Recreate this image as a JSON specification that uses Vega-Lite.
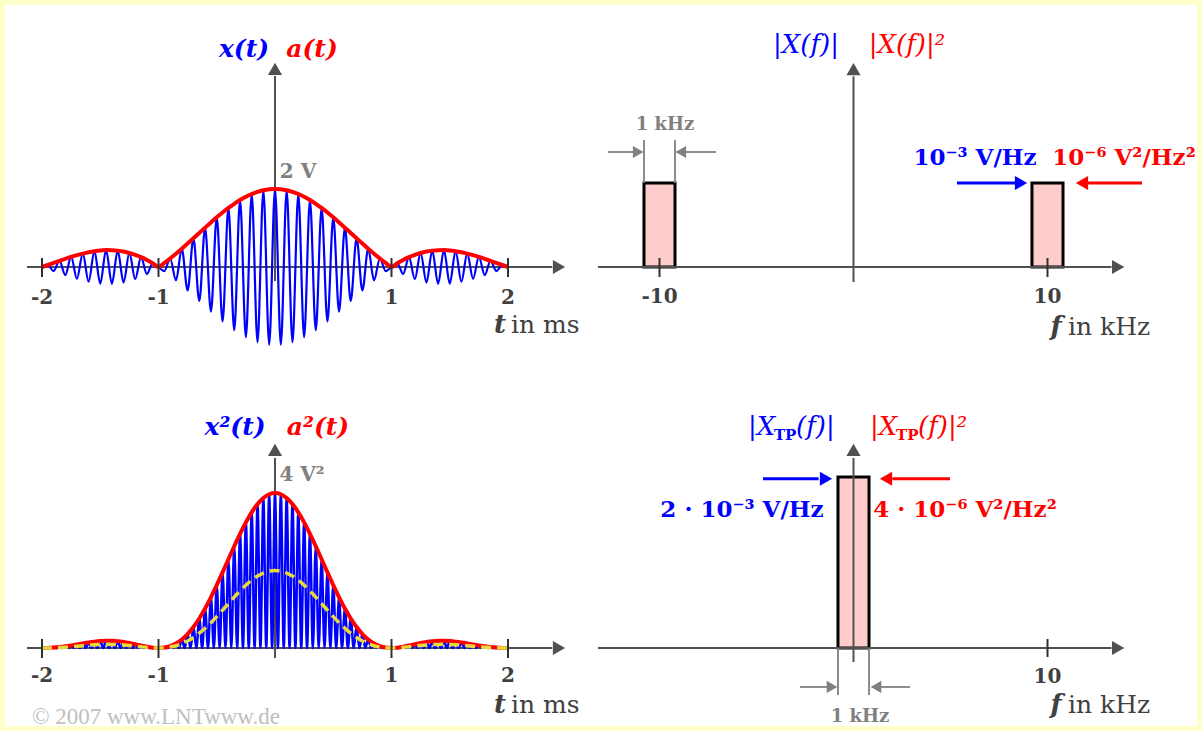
{
"$schema":"https://vega.github.io/schema/vega-lite/v6.json",
"background":"#FFFFCC",
"padding":5,
"bounds":"flush",
"spacing":0,
"columns":2,
"config":{"view":{"fill":"#FFFFFF","stroke":null},"concat":{"spacing":0}},
"resolve":{"scale":{"x":"independent","y":"independent"}},
"datasets":{
"sig":[
{"t":-2,"x":0,"a":0,"q":0,"h":0},
{"t":-1.95,"x":0.0511,"a":0.0511,"q":0.0026,"h":0.0013},
{"t":-1.9,"x":-0.1035,"a":0.1035,"q":0.0107,"h":0.0054},
{"t":-1.85,"x":0.1562,"a":0.1562,"q":0.0244,"h":0.0122},
{"t":-1.8,"x":-0.2079,"a":0.2079,"q":0.0432,"h":0.0216},
{"t":-1.75,"x":0.2572,"a":0.2572,"q":0.0662,"h":0.0331},
{"t":-1.7,"x":-0.303,"a":0.303,"q":0.0918,"h":0.0459},
{"t":-1.65,"x":0.3438,"a":0.3438,"q":0.1182,"h":0.0591},
{"t":-1.6,"x":-0.3784,"a":0.3784,"q":0.1432,"h":0.0716},
{"t":-1.55,"x":0.4057,"a":0.4057,"q":0.1646,"h":0.0823},
{"t":-1.5,"x":-0.4244,"a":0.4244,"q":0.1801,"h":0.0901},
{"t":-1.45,"x":0.4336,"a":0.4336,"q":0.188,"h":0.094},
{"t":-1.4,"x":-0.4325,"a":0.4325,"q":0.187,"h":0.0935},
{"t":-1.35,"x":0.4202,"a":0.4202,"q":0.1766,"h":0.0883},
{"t":-1.3,"x":-0.3962,"a":0.3962,"q":0.157,"h":0.0785},
{"t":-1.25,"x":0.3601,"a":0.3601,"q":0.1297,"h":0.0648},
{"t":-1.2,"x":-0.3118,"a":0.3118,"q":0.0972,"h":0.0486},
{"t":-1.15,"x":0.2513,"a":0.2513,"q":0.0632,"h":0.0316},
{"t":-1.1,"x":-0.1788,"a":0.1788,"q":0.032,"h":0.016},
{"t":-1.05,"x":0.0948,"a":0.0948,"q":0.009,"h":0.0045},
{"t":-1,"x":0,"a":0,"q":0,"h":0},
{"t":-0.95,"x":-0.1048,"a":0.1048,"q":0.011,"h":0.0055},
{"t":-0.9,"x":0.2186,"a":0.2186,"q":0.0478,"h":0.0239},
{"t":-0.85,"x":-0.34,"a":0.34,"q":0.1156,"h":0.0578},
{"t":-0.8,"x":0.4677,"a":0.4677,"q":0.2188,"h":0.1094},
{"t":-0.75,"x":-0.6002,"a":0.6002,"q":0.3603,"h":0.1801},
{"t":-0.7,"x":0.7358,"a":0.7358,"q":0.5414,"h":0.2707},
{"t":-0.65,"x":-0.8727,"a":0.8727,"q":0.7615,"h":0.3808},
{"t":-0.6,"x":1.0091,"a":1.0091,"q":1.0183,"h":0.5091},
{"t":-0.55,"x":-1.1432,"a":1.1432,"q":1.3069,"h":0.6535},
{"t":-0.5,"x":1.2732,"a":1.2732,"q":1.6211,"h":0.8106},
{"t":-0.45,"x":-1.3973,"a":1.3973,"q":1.9524,"h":0.9762},
{"t":-0.4,"x":1.5137,"a":1.5137,"q":2.2912,"h":1.1456},
{"t":-0.35,"x":-1.6207,"a":1.6207,"q":2.6266,"h":1.3133},
{"t":-0.3,"x":1.7168,"a":1.7168,"q":2.9473,"h":1.4737},
{"t":-0.25,"x":-1.8006,"a":1.8006,"q":3.2423,"h":1.6212},
{"t":-0.2,"x":1.871,"a":1.871,"q":3.5006,"h":1.7503},
{"t":-0.15,"x":-1.9268,"a":1.9268,"q":3.7126,"h":1.8563},
{"t":-0.1,"x":1.9673,"a":1.9673,"q":3.8701,"h":1.9351},
{"t":-0.05,"x":-1.9918,"a":1.9918,"q":3.9672,"h":1.9836},
{"t":0,"x":2,"a":2,"q":4,"h":2},
{"t":0.05,"x":-1.9918,"a":1.9918,"q":3.9672,"h":1.9836},
{"t":0.1,"x":1.9673,"a":1.9673,"q":3.8701,"h":1.9351},
{"t":0.15,"x":-1.9268,"a":1.9268,"q":3.7126,"h":1.8563},
{"t":0.2,"x":1.871,"a":1.871,"q":3.5006,"h":1.7503},
{"t":0.25,"x":-1.8006,"a":1.8006,"q":3.2423,"h":1.6212},
{"t":0.3,"x":1.7168,"a":1.7168,"q":2.9473,"h":1.4737},
{"t":0.35,"x":-1.6207,"a":1.6207,"q":2.6266,"h":1.3133},
{"t":0.4,"x":1.5137,"a":1.5137,"q":2.2912,"h":1.1456},
{"t":0.45,"x":-1.3973,"a":1.3973,"q":1.9524,"h":0.9762},
{"t":0.5,"x":1.2732,"a":1.2732,"q":1.6211,"h":0.8106},
{"t":0.55,"x":-1.1432,"a":1.1432,"q":1.3069,"h":0.6535},
{"t":0.6,"x":1.0091,"a":1.0091,"q":1.0183,"h":0.5091},
{"t":0.65,"x":-0.8727,"a":0.8727,"q":0.7615,"h":0.3808},
{"t":0.7,"x":0.7358,"a":0.7358,"q":0.5414,"h":0.2707},
{"t":0.75,"x":-0.6002,"a":0.6002,"q":0.3603,"h":0.1801},
{"t":0.8,"x":0.4677,"a":0.4677,"q":0.2188,"h":0.1094},
{"t":0.85,"x":-0.34,"a":0.34,"q":0.1156,"h":0.0578},
{"t":0.9,"x":0.2186,"a":0.2186,"q":0.0478,"h":0.0239},
{"t":0.95,"x":-0.1048,"a":0.1048,"q":0.011,"h":0.0055},
{"t":1,"x":0,"a":0,"q":0,"h":0},
{"t":1.05,"x":0.0948,"a":0.0948,"q":0.009,"h":0.0045},
{"t":1.1,"x":-0.1788,"a":0.1788,"q":0.032,"h":0.016},
{"t":1.15,"x":0.2513,"a":0.2513,"q":0.0632,"h":0.0316},
{"t":1.2,"x":-0.3118,"a":0.3118,"q":0.0972,"h":0.0486},
{"t":1.25,"x":0.3601,"a":0.3601,"q":0.1297,"h":0.0648},
{"t":1.3,"x":-0.3962,"a":0.3962,"q":0.157,"h":0.0785},
{"t":1.35,"x":0.4202,"a":0.4202,"q":0.1766,"h":0.0883},
{"t":1.4,"x":-0.4325,"a":0.4325,"q":0.187,"h":0.0935},
{"t":1.45,"x":0.4336,"a":0.4336,"q":0.188,"h":0.094},
{"t":1.5,"x":-0.4244,"a":0.4244,"q":0.1801,"h":0.0901},
{"t":1.55,"x":0.4057,"a":0.4057,"q":0.1646,"h":0.0823},
{"t":1.6,"x":-0.3784,"a":0.3784,"q":0.1432,"h":0.0716},
{"t":1.65,"x":0.3438,"a":0.3438,"q":0.1182,"h":0.0591},
{"t":1.7,"x":-0.303,"a":0.303,"q":0.0918,"h":0.0459},
{"t":1.75,"x":0.2572,"a":0.2572,"q":0.0662,"h":0.0331},
{"t":1.8,"x":-0.2079,"a":0.2079,"q":0.0432,"h":0.0216},
{"t":1.85,"x":0.1562,"a":0.1562,"q":0.0244,"h":0.0122},
{"t":1.9,"x":-0.1035,"a":0.1035,"q":0.0107,"h":0.0054},
{"t":1.95,"x":0.0511,"a":0.0511,"q":0.0026,"h":0.0013},
{"t":2,"x":0,"a":0,"q":0,"h":0}
],
"sq":[
{"t":-2,"y":0},{"t":-1.975,"y":0},{"t":-1.95,"y":0.0026},{"t":-1.925,"y":0},{"t":-1.9,"y":0.0107},{"t":-1.875,"y":0},{"t":-1.85,"y":0.0244},{"t":-1.825,"y":0},{"t":-1.8,"y":0.0432},{"t":-1.775,"y":0},
{"t":-1.75,"y":0.0662},{"t":-1.725,"y":0},{"t":-1.7,"y":0.0918},{"t":-1.675,"y":0},{"t":-1.65,"y":0.1182},{"t":-1.625,"y":0},{"t":-1.6,"y":0.1432},{"t":-1.575,"y":0},{"t":-1.55,"y":0.1646},{"t":-1.525,"y":0},
{"t":-1.5,"y":0.1801},{"t":-1.475,"y":0},{"t":-1.45,"y":0.188},{"t":-1.425,"y":0},{"t":-1.4,"y":0.187},{"t":-1.375,"y":0},{"t":-1.35,"y":0.1766},{"t":-1.325,"y":0},{"t":-1.3,"y":0.157},{"t":-1.275,"y":0},
{"t":-1.25,"y":0.1297},{"t":-1.225,"y":0},{"t":-1.2,"y":0.0972},{"t":-1.175,"y":0},{"t":-1.15,"y":0.0632},{"t":-1.125,"y":0},{"t":-1.1,"y":0.032},{"t":-1.075,"y":0},{"t":-1.05,"y":0.009},{"t":-1.025,"y":0},
{"t":-1,"y":0},{"t":-0.975,"y":0},{"t":-0.95,"y":0.011},{"t":-0.925,"y":0},{"t":-0.9,"y":0.0478},{"t":-0.875,"y":0},{"t":-0.85,"y":0.1156},{"t":-0.825,"y":0},{"t":-0.8,"y":0.2188},{"t":-0.775,"y":0},
{"t":-0.75,"y":0.3603},{"t":-0.725,"y":0},{"t":-0.7,"y":0.5414},{"t":-0.675,"y":0},{"t":-0.65,"y":0.7615},{"t":-0.625,"y":0},{"t":-0.6,"y":1.0183},{"t":-0.575,"y":0},{"t":-0.55,"y":1.3069},{"t":-0.525,"y":0},
{"t":-0.5,"y":1.6211},{"t":-0.475,"y":0},{"t":-0.45,"y":1.9524},{"t":-0.425,"y":0},{"t":-0.4,"y":2.2912},{"t":-0.375,"y":0},{"t":-0.35,"y":2.6266},{"t":-0.325,"y":0},{"t":-0.3,"y":2.9473},{"t":-0.275,"y":0},
{"t":-0.25,"y":3.2423},{"t":-0.225,"y":0},{"t":-0.2,"y":3.5006},{"t":-0.175,"y":0},{"t":-0.15,"y":3.7126},{"t":-0.125,"y":0},{"t":-0.1,"y":3.8701},{"t":-0.075,"y":0},{"t":-0.05,"y":3.9672},{"t":-0.025,"y":0},
{"t":0,"y":4},
{"t":0.025,"y":0},{"t":0.05,"y":3.9672},{"t":0.075,"y":0},{"t":0.1,"y":3.8701},{"t":0.125,"y":0},{"t":0.15,"y":3.7126},{"t":0.175,"y":0},{"t":0.2,"y":3.5006},{"t":0.225,"y":0},{"t":0.25,"y":3.2423},
{"t":0.275,"y":0},{"t":0.3,"y":2.9473},{"t":0.325,"y":0},{"t":0.35,"y":2.6266},{"t":0.375,"y":0},{"t":0.4,"y":2.2912},{"t":0.425,"y":0},{"t":0.45,"y":1.9524},{"t":0.475,"y":0},{"t":0.5,"y":1.6211},
{"t":0.525,"y":0},{"t":0.55,"y":1.3069},{"t":0.575,"y":0},{"t":0.6,"y":1.0183},{"t":0.625,"y":0},{"t":0.65,"y":0.7615},{"t":0.675,"y":0},{"t":0.7,"y":0.5414},{"t":0.725,"y":0},{"t":0.75,"y":0.3603},
{"t":0.775,"y":0},{"t":0.8,"y":0.2188},{"t":0.825,"y":0},{"t":0.85,"y":0.1156},{"t":0.875,"y":0},{"t":0.9,"y":0.0478},{"t":0.925,"y":0},{"t":0.95,"y":0.011},{"t":0.975,"y":0},{"t":1,"y":0},
{"t":1.025,"y":0},{"t":1.05,"y":0.009},{"t":1.075,"y":0},{"t":1.1,"y":0.032},{"t":1.125,"y":0},{"t":1.15,"y":0.0632},{"t":1.175,"y":0},{"t":1.2,"y":0.0972},{"t":1.225,"y":0},{"t":1.25,"y":0.1297},
{"t":1.275,"y":0},{"t":1.3,"y":0.157},{"t":1.325,"y":0},{"t":1.35,"y":0.1766},{"t":1.375,"y":0},{"t":1.4,"y":0.187},{"t":1.425,"y":0},{"t":1.45,"y":0.188},{"t":1.475,"y":0},{"t":1.5,"y":0.1801},
{"t":1.525,"y":0},{"t":1.55,"y":0.1646},{"t":1.575,"y":0},{"t":1.6,"y":0.1432},{"t":1.625,"y":0},{"t":1.65,"y":0.1182},{"t":1.675,"y":0},{"t":1.7,"y":0.0918},{"t":1.725,"y":0},{"t":1.75,"y":0.0662},
{"t":1.775,"y":0},{"t":1.8,"y":0.0432},{"t":1.825,"y":0},{"t":1.85,"y":0.0244},{"t":1.875,"y":0},{"t":1.9,"y":0.0107},{"t":1.925,"y":0},{"t":1.95,"y":0.0026},{"t":1.975,"y":0},{"t":2,"y":0}
]
},
"concat":[
{"width":588,"height":360,
"layer":[
{"data":{"values":[{"a":-2.129,"b":0,"a2":2.38,"b2":0},{"a":0,"b":-0.36,"a2":0,"b2":4.9}]},
 "mark":{"type":"rule","color":"#505050","strokeWidth":2},
 "encoding":{"x":{"field":"a","type":"quantitative","scale":{"domain":[-2.3176,2.7296],"nice":false,"zero":false},"axis":null},"y":{"field":"b","type":"quantitative","scale":{"domain":[-2.5128,6.7179],"nice":false,"zero":false},"axis":null},"x2":{"field":"a2"},"y2":{"field":"b2"}}},
{"data":{"values":[{"a":2.438,"b":0,"d":"r"},{"a":0,"b":5.077,"d":"u"}]},
 "mark":{"type":"point","filled":true,"color":"#505050","opacity":1,"size":200},
 "encoding":{"x":{"field":"a","type":"quantitative","scale":{"domain":[-2.3176,2.7296],"nice":false,"zero":false},"axis":null},"y":{"field":"b","type":"quantitative","scale":{"domain":[-2.5128,6.7179],"nice":false,"zero":false},"axis":null},"shape":{"field":"d","type":"nominal","scale":{"domain":["r","u","l"],"range":["triangle-right","triangle-up","triangle-left"]},"legend":null}}},
{"data":{"name":"sig"},
 "mark":{"type":"line","interpolate":"monotone","color":"#0000FF","strokeWidth":2.2},
 "encoding":{"x":{"field":"t","type":"quantitative","scale":{"domain":[-2.3176,2.7296],"nice":false,"zero":false},"axis":null},"y":{"field":"x","type":"quantitative","scale":{"domain":[-2.5128,6.7179],"nice":false,"zero":false},"axis":null}}},
{"data":{"name":"sig"},
 "mark":{"type":"line","interpolate":"monotone","color":"#FF0000","strokeWidth":4},
 "encoding":{"x":{"field":"t","type":"quantitative","scale":{"domain":[-2.3176,2.7296],"nice":false,"zero":false},"axis":null},"y":{"field":"a","type":"quantitative","scale":{"domain":[-2.5128,6.7179],"nice":false,"zero":false},"axis":null}}},
{"data":{"values":[{"a":-2},{"a":-1},{"a":1},{"a":2}]},
 "mark":{"type":"rule","color":"#303030","strokeWidth":2},
 "encoding":{"x":{"field":"a","type":"quantitative","scale":{"domain":[-2.3176,2.7296],"nice":false,"zero":false},"axis":null},"y":{"datum":-0.256,"type":"quantitative","scale":{"domain":[-2.5128,6.7179],"nice":false,"zero":false},"axis":null},"y2":{"datum":0.23}}},
{"data":{"values":[{"a":-2,"b":-0.795,"s":"-2"},{"a":-1,"b":-0.795,"s":"-1"},{"a":1,"b":-0.795,"s":"1"},{"a":2,"b":-0.795,"s":"2"}]},
 "mark":{"type":"text","font":"DejaVu Serif","fontSize":20,"fontWeight":"bold","color":"#404040","align":"center","baseline":"middle"},
 "encoding":{"x":{"field":"a","type":"quantitative","scale":{"domain":[-2.3176,2.7296],"nice":false,"zero":false},"axis":null},"y":{"field":"b","type":"quantitative","scale":{"domain":[-2.5128,6.7179],"nice":false,"zero":false},"axis":null},"text":{"field":"s"}}},
{"data":{"values":[{"a":1.931,"b":-1.487,"s":"t"}]},
 "mark":{"type":"text","font":"DejaVu Serif","fontSize":26,"fontStyle":"italic","fontWeight":"bold","color":"#404040","align":"center","baseline":"middle"},
 "encoding":{"x":{"field":"a","type":"quantitative","scale":{"domain":[-2.3176,2.7296],"nice":false,"zero":false},"axis":null},"y":{"field":"b","type":"quantitative","scale":{"domain":[-2.5128,6.7179],"nice":false,"zero":false},"axis":null},"text":{"field":"s"}}},
{"data":{"values":[{"a":2.026,"b":-1.487,"s":"in ms"}]},
 "mark":{"type":"text","font":"DejaVu Serif","fontSize":25,"color":"#404040","align":"left","baseline":"middle"},
 "encoding":{"x":{"field":"a","type":"quantitative","scale":{"domain":[-2.3176,2.7296],"nice":false,"zero":false},"axis":null},"y":{"field":"b","type":"quantitative","scale":{"domain":[-2.5128,6.7179],"nice":false,"zero":false},"axis":null},"text":{"field":"s"}}},
{"data":{"values":[{"a":-0.266,"b":5.59,"s":"x(t)"}]},
 "mark":{"type":"text","font":"DejaVu Serif","fontSize":25,"fontStyle":"italic","fontWeight":"bold","color":"#0000FF","align":"center","baseline":"middle"},
 "encoding":{"x":{"field":"a","type":"quantitative","scale":{"domain":[-2.3176,2.7296],"nice":false,"zero":false},"axis":null},"y":{"field":"b","type":"quantitative","scale":{"domain":[-2.5128,6.7179],"nice":false,"zero":false},"axis":null},"text":{"field":"s"}}},
{"data":{"values":[{"a":0.318,"b":5.59,"s":"a(t)"}]},
 "mark":{"type":"text","font":"DejaVu Serif","fontSize":25,"fontStyle":"italic","fontWeight":"bold","color":"#FF0000","align":"center","baseline":"middle"},
 "encoding":{"x":{"field":"a","type":"quantitative","scale":{"domain":[-2.3176,2.7296],"nice":false,"zero":false},"axis":null},"y":{"field":"b","type":"quantitative","scale":{"domain":[-2.5128,6.7179],"nice":false,"zero":false},"axis":null},"text":{"field":"s"}}},
{"data":{"values":[{"a":0.197,"b":2.436,"s":"2 V"}]},
 "mark":{"type":"text","font":"DejaVu Serif","fontSize":20,"fontWeight":"bold","color":"#808080","align":"center","baseline":"middle"},
 "encoding":{"x":{"field":"a","type":"quantitative","scale":{"domain":[-2.3176,2.7296],"nice":false,"zero":false},"axis":null},"y":{"field":"b","type":"quantitative","scale":{"domain":[-2.5128,6.7179],"nice":false,"zero":false},"axis":null},"text":{"field":"s"}}}
]},
{"width":604,"height":360,
"layer":[
{"data":{"values":[{"a":-10.8,"a2":-9.2},{"a":9.2,"a2":10.8}]},
 "mark":{"type":"rect","fill":"#FFCCCC","stroke":"#000000","strokeWidth":3},
 "encoding":{"x":{"field":"a","type":"quantitative","scale":{"domain":[-13.4278,17.7062],"nice":false,"zero":false},"axis":null},"x2":{"field":"a2"},"y":{"datum":0,"type":"quantitative","scale":{"domain":[-1.1667,3.119],"nice":false,"zero":false},"axis":null},"y2":{"datum":1}}},
{"data":{"values":[{"a":-13.17,"b":0,"a2":13.3,"b2":0},{"a":0,"b":-0.179,"a2":0,"b2":2.27}]},
 "mark":{"type":"rule","color":"#505050","strokeWidth":2},
 "encoding":{"x":{"field":"a","type":"quantitative","scale":{"domain":[-13.4278,17.7062],"nice":false,"zero":false},"axis":null},"y":{"field":"b","type":"quantitative","scale":{"domain":[-1.1667,3.119],"nice":false,"zero":false},"axis":null},"x2":{"field":"a2"},"y2":{"field":"b2"}}},
{"data":{"values":[{"a":13.64,"b":0,"d":"r"},{"a":0,"b":2.357,"d":"u"}]},
 "mark":{"type":"point","filled":true,"color":"#505050","opacity":1,"size":200},
 "encoding":{"x":{"field":"a","type":"quantitative","scale":{"domain":[-13.4278,17.7062],"nice":false,"zero":false},"axis":null},"y":{"field":"b","type":"quantitative","scale":{"domain":[-1.1667,3.119],"nice":false,"zero":false},"axis":null},"shape":{"field":"d","type":"nominal","scale":{"domain":["r","u","l"],"range":["triangle-right","triangle-up","triangle-left"]},"legend":null}}},
{"data":{"values":[{"a":-10},{"a":10}]},
 "mark":{"type":"rule","color":"#303030","strokeWidth":2},
 "encoding":{"x":{"field":"a","type":"quantitative","scale":{"domain":[-13.4278,17.7062],"nice":false,"zero":false},"axis":null},"y":{"datum":-0.119,"type":"quantitative","scale":{"domain":[-1.1667,3.119],"nice":false,"zero":false},"axis":null},"y2":{"datum":0.107}}},
{"data":{"values":[{"a":-10,"b":-0.357,"s":"-10"},{"a":10,"b":-0.357,"s":"10"}]},
 "mark":{"type":"text","font":"DejaVu Serif","fontSize":20,"fontWeight":"bold","color":"#404040","align":"center","baseline":"middle"},
 "encoding":{"x":{"field":"a","type":"quantitative","scale":{"domain":[-13.4278,17.7062],"nice":false,"zero":false},"axis":null},"y":{"field":"b","type":"quantitative","scale":{"domain":[-1.1667,3.119],"nice":false,"zero":false},"axis":null},"text":{"field":"s"}}},
{"data":{"values":[{"a":10.438,"b":-0.714,"s":"f"}]},
 "mark":{"type":"text","font":"DejaVu Serif","fontSize":26,"fontStyle":"italic","fontWeight":"bold","color":"#404040","align":"center","baseline":"middle"},
 "encoding":{"x":{"field":"a","type":"quantitative","scale":{"domain":[-13.4278,17.7062],"nice":false,"zero":false},"axis":null},"y":{"field":"b","type":"quantitative","scale":{"domain":[-1.1667,3.119],"nice":false,"zero":false},"axis":null},"text":{"field":"s"}}},
{"data":{"values":[{"a":11.057,"b":-0.714,"s":"in kHz"}]},
 "mark":{"type":"text","font":"DejaVu Serif","fontSize":25,"color":"#404040","align":"left","baseline":"middle"},
 "encoding":{"x":{"field":"a","type":"quantitative","scale":{"domain":[-13.4278,17.7062],"nice":false,"zero":false},"axis":null},"y":{"field":"b","type":"quantitative","scale":{"domain":[-1.1667,3.119],"nice":false,"zero":false},"axis":null},"text":{"field":"s"}}},
{"data":{"values":[{"a":-2.448,"b":2.643,"s":"|X(f)|"}]},
 "mark":{"type":"text","font":"DejaVu Serif","fontSize":26,"fontStyle":"italic","color":"#0000FF","align":"center","baseline":"middle"},
 "encoding":{"x":{"field":"a","type":"quantitative","scale":{"domain":[-13.4278,17.7062],"nice":false,"zero":false},"axis":null},"y":{"field":"b","type":"quantitative","scale":{"domain":[-1.1667,3.119],"nice":false,"zero":false},"axis":null},"text":{"field":"s"}}},
{"data":{"values":[{"a":2.758,"b":2.643,"s":"|X(f)|²"}]},
 "mark":{"type":"text","font":"DejaVu Serif","fontSize":26,"fontStyle":"italic","color":"#FF0000","align":"center","baseline":"middle"},
 "encoding":{"x":{"field":"a","type":"quantitative","scale":{"domain":[-13.4278,17.7062],"nice":false,"zero":false},"axis":null},"y":{"field":"b","type":"quantitative","scale":{"domain":[-1.1667,3.119],"nice":false,"zero":false},"axis":null},"text":{"field":"s"}}},
{"data":{"values":[{"a":-10.8,"b":1,"a2":-10.8,"b2":1.512},{"a":-9.2,"b":1,"a2":-9.2,"b2":1.512},{"a":-12.655,"b":1.369,"a2":-11.3,"b2":1.369},{"a":-7.088,"b":1.369,"a2":-8.7,"b2":1.369}]},
 "mark":{"type":"rule","color":"#808080","strokeWidth":1.8},
 "encoding":{"x":{"field":"a","type":"quantitative","scale":{"domain":[-13.4278,17.7062],"nice":false,"zero":false},"axis":null},"y":{"field":"b","type":"quantitative","scale":{"domain":[-1.1667,3.119],"nice":false,"zero":false},"axis":null},"x2":{"field":"a2"},"y2":{"field":"b2"}}},
{"data":{"values":[{"a":-11.1,"b":1.369,"d":"r"},{"a":-8.9,"b":1.369,"d":"l"}]},
 "mark":{"type":"point","filled":true,"color":"#808080","opacity":1,"size":150},
 "encoding":{"x":{"field":"a","type":"quantitative","scale":{"domain":[-13.4278,17.7062],"nice":false,"zero":false},"axis":null},"y":{"field":"b","type":"quantitative","scale":{"domain":[-1.1667,3.119],"nice":false,"zero":false},"axis":null},"shape":{"field":"d","type":"nominal","scale":{"domain":["r","u","l"],"range":["triangle-right","triangle-up","triangle-left"]},"legend":null}}},
{"data":{"values":[{"a":-9.716,"b":1.69,"s":"1 kHz"}]},
 "mark":{"type":"text","font":"DejaVu Serif","fontSize":18,"fontWeight":"bold","color":"#808080","align":"center","baseline":"middle"},
 "encoding":{"x":{"field":"a","type":"quantitative","scale":{"domain":[-13.4278,17.7062],"nice":false,"zero":false},"axis":null},"y":{"field":"b","type":"quantitative","scale":{"domain":[-1.1667,3.119],"nice":false,"zero":false},"axis":null},"text":{"field":"s"}}},
{"data":{"values":[{"a":5.335,"b":1,"a2":8.4,"b2":1}]},
 "mark":{"type":"rule","color":"#0000FF","strokeWidth":3},
 "encoding":{"x":{"field":"a","type":"quantitative","scale":{"domain":[-13.4278,17.7062],"nice":false,"zero":false},"axis":null},"y":{"field":"b","type":"quantitative","scale":{"domain":[-1.1667,3.119],"nice":false,"zero":false},"axis":null},"x2":{"field":"a2"},"y2":{"field":"b2"}}},
{"data":{"values":[{"a":8.634,"b":1,"d":"r"}]},
 "mark":{"type":"point","filled":true,"color":"#0000FF","opacity":1,"size":200},
 "encoding":{"x":{"field":"a","type":"quantitative","scale":{"domain":[-13.4278,17.7062],"nice":false,"zero":false},"axis":null},"y":{"field":"b","type":"quantitative","scale":{"domain":[-1.1667,3.119],"nice":false,"zero":false},"axis":null},"shape":{"field":"d","type":"nominal","scale":{"domain":["r","u","l"],"range":["triangle-right","triangle-up","triangle-left"]},"legend":null}}},
{"data":{"values":[{"a":14.871,"b":1,"a2":12.0,"b2":1}]},
 "mark":{"type":"rule","color":"#FF0000","strokeWidth":3},
 "encoding":{"x":{"field":"a","type":"quantitative","scale":{"domain":[-13.4278,17.7062],"nice":false,"zero":false},"axis":null},"y":{"field":"b","type":"quantitative","scale":{"domain":[-1.1667,3.119],"nice":false,"zero":false},"axis":null},"x2":{"field":"a2"},"y2":{"field":"b2"}}},
{"data":{"values":[{"a":11.778,"b":1,"d":"l"}]},
 "mark":{"type":"point","filled":true,"color":"#FF0000","opacity":1,"size":200},
 "encoding":{"x":{"field":"a","type":"quantitative","scale":{"domain":[-13.4278,17.7062],"nice":false,"zero":false},"axis":null},"y":{"field":"b","type":"quantitative","scale":{"domain":[-1.1667,3.119],"nice":false,"zero":false},"axis":null},"shape":{"field":"d","type":"nominal","scale":{"domain":["r","u","l"],"range":["triangle-right","triangle-up","triangle-left"]},"legend":null}}},
{"data":{"values":[{"a":6.263,"b":1.298,"s":"10⁻³ V/Hz"}]},
 "mark":{"type":"text","font":"DejaVu Serif","fontSize":23,"fontWeight":"bold","color":"#0000FF","align":"center","baseline":"middle"},
 "encoding":{"x":{"field":"a","type":"quantitative","scale":{"domain":[-13.4278,17.7062],"nice":false,"zero":false},"axis":null},"y":{"field":"b","type":"quantitative","scale":{"domain":[-1.1667,3.119],"nice":false,"zero":false},"axis":null},"text":{"field":"s"}}},
{"data":{"values":[{"a":13.943,"b":1.298,"s":"10⁻⁶ V²/Hz²"}]},
 "mark":{"type":"text","font":"DejaVu Serif","fontSize":23,"fontWeight":"bold","color":"#FF0000","align":"center","baseline":"middle"},
 "encoding":{"x":{"field":"a","type":"quantitative","scale":{"domain":[-13.4278,17.7062],"nice":false,"zero":false},"axis":null},"y":{"field":"b","type":"quantitative","scale":{"domain":[-1.1667,3.119],"nice":false,"zero":false},"axis":null},"text":{"field":"s"}}}
]},
{"width":588,"height":361,
"layer":[
{"data":{"values":[{"a":-2.129,"b":0,"a2":2.38,"b2":0},{"a":0,"b":-0.258,"a2":0,"b2":4.903}]},
 "mark":{"type":"rule","color":"#505050","strokeWidth":2},
 "encoding":{"x":{"field":"a","type":"quantitative","scale":{"domain":[-2.3176,2.7296],"nice":false,"zero":false},"axis":null},"y":{"field":"b","type":"quantitative","scale":{"domain":[-2.0129,7.3032],"nice":false,"zero":false},"axis":null},"x2":{"field":"a2"},"y2":{"field":"b2"}}},
{"data":{"values":[{"a":2.438,"b":0,"d":"r"},{"a":0,"b":5.11,"d":"u"}]},
 "mark":{"type":"point","filled":true,"color":"#505050","opacity":1,"size":200},
 "encoding":{"x":{"field":"a","type":"quantitative","scale":{"domain":[-2.3176,2.7296],"nice":false,"zero":false},"axis":null},"y":{"field":"b","type":"quantitative","scale":{"domain":[-2.0129,7.3032],"nice":false,"zero":false},"axis":null},"shape":{"field":"d","type":"nominal","scale":{"domain":["r","u","l"],"range":["triangle-right","triangle-up","triangle-left"]},"legend":null}}},
{"data":{"name":"sq"},
 "mark":{"type":"line","interpolate":"monotone","color":"#0000FF","strokeWidth":2.5},
 "encoding":{"x":{"field":"t","type":"quantitative","scale":{"domain":[-2.3176,2.7296],"nice":false,"zero":false},"axis":null},"y":{"field":"y","type":"quantitative","scale":{"domain":[-2.0129,7.3032],"nice":false,"zero":false},"axis":null}}},
{"data":{"name":"sig"},
 "mark":{"type":"line","interpolate":"monotone","color":"#FF0000","strokeWidth":4},
 "encoding":{"x":{"field":"t","type":"quantitative","scale":{"domain":[-2.3176,2.7296],"nice":false,"zero":false},"axis":null},"y":{"field":"q","type":"quantitative","scale":{"domain":[-2.0129,7.3032],"nice":false,"zero":false},"axis":null}}},
{"data":{"name":"sig"},
 "mark":{"type":"line","interpolate":"monotone","color":"#E8DA3A","strokeWidth":3.5,"strokeDash":[10,6]},
 "encoding":{"x":{"field":"t","type":"quantitative","scale":{"domain":[-2.3176,2.7296],"nice":false,"zero":false},"axis":null},"y":{"field":"h","type":"quantitative","scale":{"domain":[-2.0129,7.3032],"nice":false,"zero":false},"axis":null}}},
{"data":{"values":[{"a":-2},{"a":-1},{"a":1},{"a":2}]},
 "mark":{"type":"rule","color":"#303030","strokeWidth":2},
 "encoding":{"x":{"field":"a","type":"quantitative","scale":{"domain":[-2.3176,2.7296],"nice":false,"zero":false},"axis":null},"y":{"datum":-0.258,"type":"quantitative","scale":{"domain":[-2.0129,7.3032],"nice":false,"zero":false},"axis":null},"y2":{"datum":0.232}}},
{"data":{"values":[{"a":-2,"b":-0.723,"s":"-2"},{"a":-1,"b":-0.723,"s":"-1"},{"a":1,"b":-0.723,"s":"1"},{"a":2,"b":-0.723,"s":"2"}]},
 "mark":{"type":"text","font":"DejaVu Serif","fontSize":20,"fontWeight":"bold","color":"#404040","align":"center","baseline":"middle"},
 "encoding":{"x":{"field":"a","type":"quantitative","scale":{"domain":[-2.3176,2.7296],"nice":false,"zero":false},"axis":null},"y":{"field":"b","type":"quantitative","scale":{"domain":[-2.0129,7.3032],"nice":false,"zero":false},"axis":null},"text":{"field":"s"}}},
{"data":{"values":[{"a":1.931,"b":-1.471,"s":"t"}]},
 "mark":{"type":"text","font":"DejaVu Serif","fontSize":26,"fontStyle":"italic","fontWeight":"bold","color":"#404040","align":"center","baseline":"middle"},
 "encoding":{"x":{"field":"a","type":"quantitative","scale":{"domain":[-2.3176,2.7296],"nice":false,"zero":false},"axis":null},"y":{"field":"b","type":"quantitative","scale":{"domain":[-2.0129,7.3032],"nice":false,"zero":false},"axis":null},"text":{"field":"s"}}},
{"data":{"values":[{"a":2.026,"b":-1.471,"s":"in ms"}]},
 "mark":{"type":"text","font":"DejaVu Serif","fontSize":25,"color":"#404040","align":"left","baseline":"middle"},
 "encoding":{"x":{"field":"a","type":"quantitative","scale":{"domain":[-2.3176,2.7296],"nice":false,"zero":false},"axis":null},"y":{"field":"b","type":"quantitative","scale":{"domain":[-2.0129,7.3032],"nice":false,"zero":false},"axis":null},"text":{"field":"s"}}},
{"data":{"values":[{"a":-0.343,"b":5.703,"s":"x²(t)"}]},
 "mark":{"type":"text","font":"DejaVu Serif","fontSize":25,"fontStyle":"italic","fontWeight":"bold","color":"#0000FF","align":"center","baseline":"middle"},
 "encoding":{"x":{"field":"a","type":"quantitative","scale":{"domain":[-2.3176,2.7296],"nice":false,"zero":false},"axis":null},"y":{"field":"b","type":"quantitative","scale":{"domain":[-2.0129,7.3032],"nice":false,"zero":false},"axis":null},"text":{"field":"s"}}},
{"data":{"values":[{"a":0.369,"b":5.703,"s":"a²(t)"}]},
 "mark":{"type":"text","font":"DejaVu Serif","fontSize":25,"fontStyle":"italic","fontWeight":"bold","color":"#FF0000","align":"center","baseline":"middle"},
 "encoding":{"x":{"field":"a","type":"quantitative","scale":{"domain":[-2.3176,2.7296],"nice":false,"zero":false},"axis":null},"y":{"field":"b","type":"quantitative","scale":{"domain":[-2.0129,7.3032],"nice":false,"zero":false},"axis":null},"text":{"field":"s"}}},
{"data":{"values":[{"a":0.232,"b":4.465,"s":"4 V²"}]},
 "mark":{"type":"text","font":"DejaVu Serif","fontSize":20,"fontWeight":"bold","color":"#808080","align":"center","baseline":"middle"},
 "encoding":{"x":{"field":"a","type":"quantitative","scale":{"domain":[-2.3176,2.7296],"nice":false,"zero":false},"axis":null},"y":{"field":"b","type":"quantitative","scale":{"domain":[-2.0129,7.3032],"nice":false,"zero":false},"axis":null},"text":{"field":"s"}}},
{"data":{"values":[{"a":-2.086,"b":-1.781,"s":"© 2007 www.LNTwww.de"}]},
 "mark":{"type":"text","font":"Liberation Serif","fontSize":23,"color":"#C0C0C0","align":"left","baseline":"middle"},
 "encoding":{"x":{"field":"a","type":"quantitative","scale":{"domain":[-2.3176,2.7296],"nice":false,"zero":false},"axis":null},"y":{"field":"b","type":"quantitative","scale":{"domain":[-2.0129,7.3032],"nice":false,"zero":false},"axis":null},"text":{"field":"s"}}}
]},
{"width":604,"height":361,
"layer":[
{"data":{"values":[{"a":-0.8,"a2":0.8}]},
 "mark":{"type":"rect","fill":"#FFCCCC","stroke":"#000000","strokeWidth":3},
 "encoding":{"x":{"field":"a","type":"quantitative","scale":{"domain":[-13.4278,17.7062],"nice":false,"zero":false},"axis":null},"x2":{"field":"a2"},"y":{"datum":0,"type":"quantitative","scale":{"domain":[-0.9123,3.3099],"nice":false,"zero":false},"axis":null},"y2":{"datum":2}}},
{"data":{"values":[{"a":-13.17,"b":0,"a2":13.3,"b2":0},{"a":0,"b":-0.164,"a2":0,"b2":2.222}]},
 "mark":{"type":"rule","color":"#505050","strokeWidth":2},
 "encoding":{"x":{"field":"a","type":"quantitative","scale":{"domain":[-13.4278,17.7062],"nice":false,"zero":false},"axis":null},"y":{"field":"b","type":"quantitative","scale":{"domain":[-0.9123,3.3099],"nice":false,"zero":false},"axis":null},"x2":{"field":"a2"},"y2":{"field":"b2"}}},
{"data":{"values":[{"a":13.64,"b":0,"d":"r"},{"a":0,"b":2.316,"d":"u"}]},
 "mark":{"type":"point","filled":true,"color":"#505050","opacity":1,"size":200},
 "encoding":{"x":{"field":"a","type":"quantitative","scale":{"domain":[-13.4278,17.7062],"nice":false,"zero":false},"axis":null},"y":{"field":"b","type":"quantitative","scale":{"domain":[-0.9123,3.3099],"nice":false,"zero":false},"axis":null},"shape":{"field":"d","type":"nominal","scale":{"domain":["r","u","l"],"range":["triangle-right","triangle-up","triangle-left"]},"legend":null}}},
{"data":{"values":[{"a":10}]},
 "mark":{"type":"rule","color":"#303030","strokeWidth":2},
 "encoding":{"x":{"field":"a","type":"quantitative","scale":{"domain":[-13.4278,17.7062],"nice":false,"zero":false},"axis":null},"y":{"datum":-0.105,"type":"quantitative","scale":{"domain":[-0.9123,3.3099],"nice":false,"zero":false},"axis":null},"y2":{"datum":0.105}}},
{"data":{"values":[{"a":10,"b":-0.339,"s":"10"}]},
 "mark":{"type":"text","font":"DejaVu Serif","fontSize":20,"fontWeight":"bold","color":"#404040","align":"center","baseline":"middle"},
 "encoding":{"x":{"field":"a","type":"quantitative","scale":{"domain":[-13.4278,17.7062],"nice":false,"zero":false},"axis":null},"y":{"field":"b","type":"quantitative","scale":{"domain":[-0.9123,3.3099],"nice":false,"zero":false},"axis":null},"text":{"field":"s"}}},
{"data":{"values":[{"a":10.438,"b":-0.667,"s":"f"}]},
 "mark":{"type":"text","font":"DejaVu Serif","fontSize":26,"fontStyle":"italic","fontWeight":"bold","color":"#404040","align":"center","baseline":"middle"},
 "encoding":{"x":{"field":"a","type":"quantitative","scale":{"domain":[-13.4278,17.7062],"nice":false,"zero":false},"axis":null},"y":{"field":"b","type":"quantitative","scale":{"domain":[-0.9123,3.3099],"nice":false,"zero":false},"axis":null},"text":{"field":"s"}}},
{"data":{"values":[{"a":11.057,"b":-0.667,"s":"in kHz"}]},
 "mark":{"type":"text","font":"DejaVu Serif","fontSize":25,"color":"#404040","align":"left","baseline":"middle"},
 "encoding":{"x":{"field":"a","type":"quantitative","scale":{"domain":[-13.4278,17.7062],"nice":false,"zero":false},"axis":null},"y":{"field":"b","type":"quantitative","scale":{"domain":[-0.9123,3.3099],"nice":false,"zero":false},"axis":null},"text":{"field":"s"}}},
{"data":{"values":[{"a":-5.438,"b":2.585,"s":"|X"},{"a":-2.964,"b":2.585,"s":"(f)|"}]},
 "mark":{"type":"text","font":"DejaVu Serif","fontSize":26,"fontStyle":"italic","color":"#0000FF","align":"left","baseline":"middle"},
 "encoding":{"x":{"field":"a","type":"quantitative","scale":{"domain":[-13.4278,17.7062],"nice":false,"zero":false},"axis":null},"y":{"field":"b","type":"quantitative","scale":{"domain":[-0.9123,3.3099],"nice":false,"zero":false},"axis":null},"text":{"field":"s"}}},
{"data":{"values":[{"a":-4.1,"b":2.49,"s":"TP"}]},
 "mark":{"type":"text","font":"DejaVu Serif","fontSize":15,"fontWeight":"bold","color":"#0000FF","align":"left","baseline":"middle"},
 "encoding":{"x":{"field":"a","type":"quantitative","scale":{"domain":[-13.4278,17.7062],"nice":false,"zero":false},"axis":null},"y":{"field":"b","type":"quantitative","scale":{"domain":[-0.9123,3.3099],"nice":false,"zero":false},"axis":null},"text":{"field":"s"}}},
{"data":{"values":[{"a":0.851,"b":2.585,"s":"|X"},{"a":3.325,"b":2.585,"s":"(f)|²"}]},
 "mark":{"type":"text","font":"DejaVu Serif","fontSize":26,"fontStyle":"italic","color":"#FF0000","align":"left","baseline":"middle"},
 "encoding":{"x":{"field":"a","type":"quantitative","scale":{"domain":[-13.4278,17.7062],"nice":false,"zero":false},"axis":null},"y":{"field":"b","type":"quantitative","scale":{"domain":[-0.9123,3.3099],"nice":false,"zero":false},"axis":null},"text":{"field":"s"}}},
{"data":{"values":[{"a":2.19,"b":2.49,"s":"TP"}]},
 "mark":{"type":"text","font":"DejaVu Serif","fontSize":15,"fontWeight":"bold","color":"#FF0000","align":"left","baseline":"middle"},
 "encoding":{"x":{"field":"a","type":"quantitative","scale":{"domain":[-13.4278,17.7062],"nice":false,"zero":false},"axis":null},"y":{"field":"b","type":"quantitative","scale":{"domain":[-0.9123,3.3099],"nice":false,"zero":false},"axis":null},"text":{"field":"s"}}},
{"data":{"values":[{"a":-0.8,"b":0,"a2":-0.8,"b2":-0.55},{"a":0.8,"b":0,"a2":0.8,"b2":-0.55},{"a":-2.758,"b":-0.456,"a2":-1.3,"b2":-0.456},{"a":2.912,"b":-0.456,"a2":1.3,"b2":-0.456}]},
 "mark":{"type":"rule","color":"#808080","strokeWidth":1.8},
 "encoding":{"x":{"field":"a","type":"quantitative","scale":{"domain":[-13.4278,17.7062],"nice":false,"zero":false},"axis":null},"y":{"field":"b","type":"quantitative","scale":{"domain":[-0.9123,3.3099],"nice":false,"zero":false},"axis":null},"x2":{"field":"a2"},"y2":{"field":"b2"}}},
{"data":{"values":[{"a":-1.108,"b":-0.456,"d":"r"},{"a":1.16,"b":-0.456,"d":"l"}]},
 "mark":{"type":"point","filled":true,"color":"#808080","opacity":1,"size":150},
 "encoding":{"x":{"field":"a","type":"quantitative","scale":{"domain":[-13.4278,17.7062],"nice":false,"zero":false},"axis":null},"y":{"field":"b","type":"quantitative","scale":{"domain":[-0.9123,3.3099],"nice":false,"zero":false},"axis":null},"shape":{"field":"d","type":"nominal","scale":{"domain":["r","u","l"],"range":["triangle-right","triangle-up","triangle-left"]},"legend":null}}},
{"data":{"values":[{"a":0.335,"b":-0.807,"s":"1 kHz"}]},
 "mark":{"type":"text","font":"DejaVu Serif","fontSize":18,"fontWeight":"bold","color":"#808080","align":"center","baseline":"middle"},
 "encoding":{"x":{"field":"a","type":"quantitative","scale":{"domain":[-13.4278,17.7062],"nice":false,"zero":false},"axis":null},"y":{"field":"b","type":"quantitative","scale":{"domain":[-0.9123,3.3099],"nice":false,"zero":false},"axis":null},"text":{"field":"s"}}},
{"data":{"values":[{"a":-4.665,"b":1.98,"a2":-1.8,"b2":1.98}]},
 "mark":{"type":"rule","color":"#0000FF","strokeWidth":3},
 "encoding":{"x":{"field":"a","type":"quantitative","scale":{"domain":[-13.4278,17.7062],"nice":false,"zero":false},"axis":null},"y":{"field":"b","type":"quantitative","scale":{"domain":[-0.9123,3.3099],"nice":false,"zero":false},"axis":null},"x2":{"field":"a2"},"y2":{"field":"b2"}}},
{"data":{"values":[{"a":-1.418,"b":1.98,"d":"r"}]},
 "mark":{"type":"point","filled":true,"color":"#0000FF","opacity":1,"size":200},
 "encoding":{"x":{"field":"a","type":"quantitative","scale":{"domain":[-13.4278,17.7062],"nice":false,"zero":false},"axis":null},"y":{"field":"b","type":"quantitative","scale":{"domain":[-0.9123,3.3099],"nice":false,"zero":false},"axis":null},"shape":{"field":"d","type":"nominal","scale":{"domain":["r","u","l"],"range":["triangle-right","triangle-up","triangle-left"]},"legend":null}}},
{"data":{"values":[{"a":4.974,"b":1.98,"a2":2.0,"b2":1.98}]},
 "mark":{"type":"rule","color":"#FF0000","strokeWidth":3},
 "encoding":{"x":{"field":"a","type":"quantitative","scale":{"domain":[-13.4278,17.7062],"nice":false,"zero":false},"axis":null},"y":{"field":"b","type":"quantitative","scale":{"domain":[-0.9123,3.3099],"nice":false,"zero":false},"axis":null},"x2":{"field":"a2"},"y2":{"field":"b2"}}},
{"data":{"values":[{"a":1.675,"b":1.98,"d":"l"}]},
 "mark":{"type":"point","filled":true,"color":"#FF0000","opacity":1,"size":200},
 "encoding":{"x":{"field":"a","type":"quantitative","scale":{"domain":[-13.4278,17.7062],"nice":false,"zero":false},"axis":null},"y":{"field":"b","type":"quantitative","scale":{"domain":[-0.9123,3.3099],"nice":false,"zero":false},"axis":null},"shape":{"field":"d","type":"nominal","scale":{"domain":["r","u","l"],"range":["triangle-right","triangle-up","triangle-left"]},"legend":null}}},
{"data":{"values":[{"a":-5.747,"b":1.614,"s":"2 · 10⁻³ V/Hz"}]},
 "mark":{"type":"text","font":"DejaVu Serif","fontSize":23,"fontWeight":"bold","color":"#0000FF","align":"center","baseline":"middle"},
 "encoding":{"x":{"field":"a","type":"quantitative","scale":{"domain":[-13.4278,17.7062],"nice":false,"zero":false},"axis":null},"y":{"field":"b","type":"quantitative","scale":{"domain":[-0.9123,3.3099],"nice":false,"zero":false},"axis":null},"text":{"field":"s"}}},
{"data":{"values":[{"a":5.747,"b":1.614,"s":"4 · 10⁻⁶ V²/Hz²"}]},
 "mark":{"type":"text","font":"DejaVu Serif","fontSize":23,"fontWeight":"bold","color":"#FF0000","align":"center","baseline":"middle"},
 "encoding":{"x":{"field":"a","type":"quantitative","scale":{"domain":[-13.4278,17.7062],"nice":false,"zero":false},"axis":null},"y":{"field":"b","type":"quantitative","scale":{"domain":[-0.9123,3.3099],"nice":false,"zero":false},"axis":null},"text":{"field":"s"}}}
]}
]
}
